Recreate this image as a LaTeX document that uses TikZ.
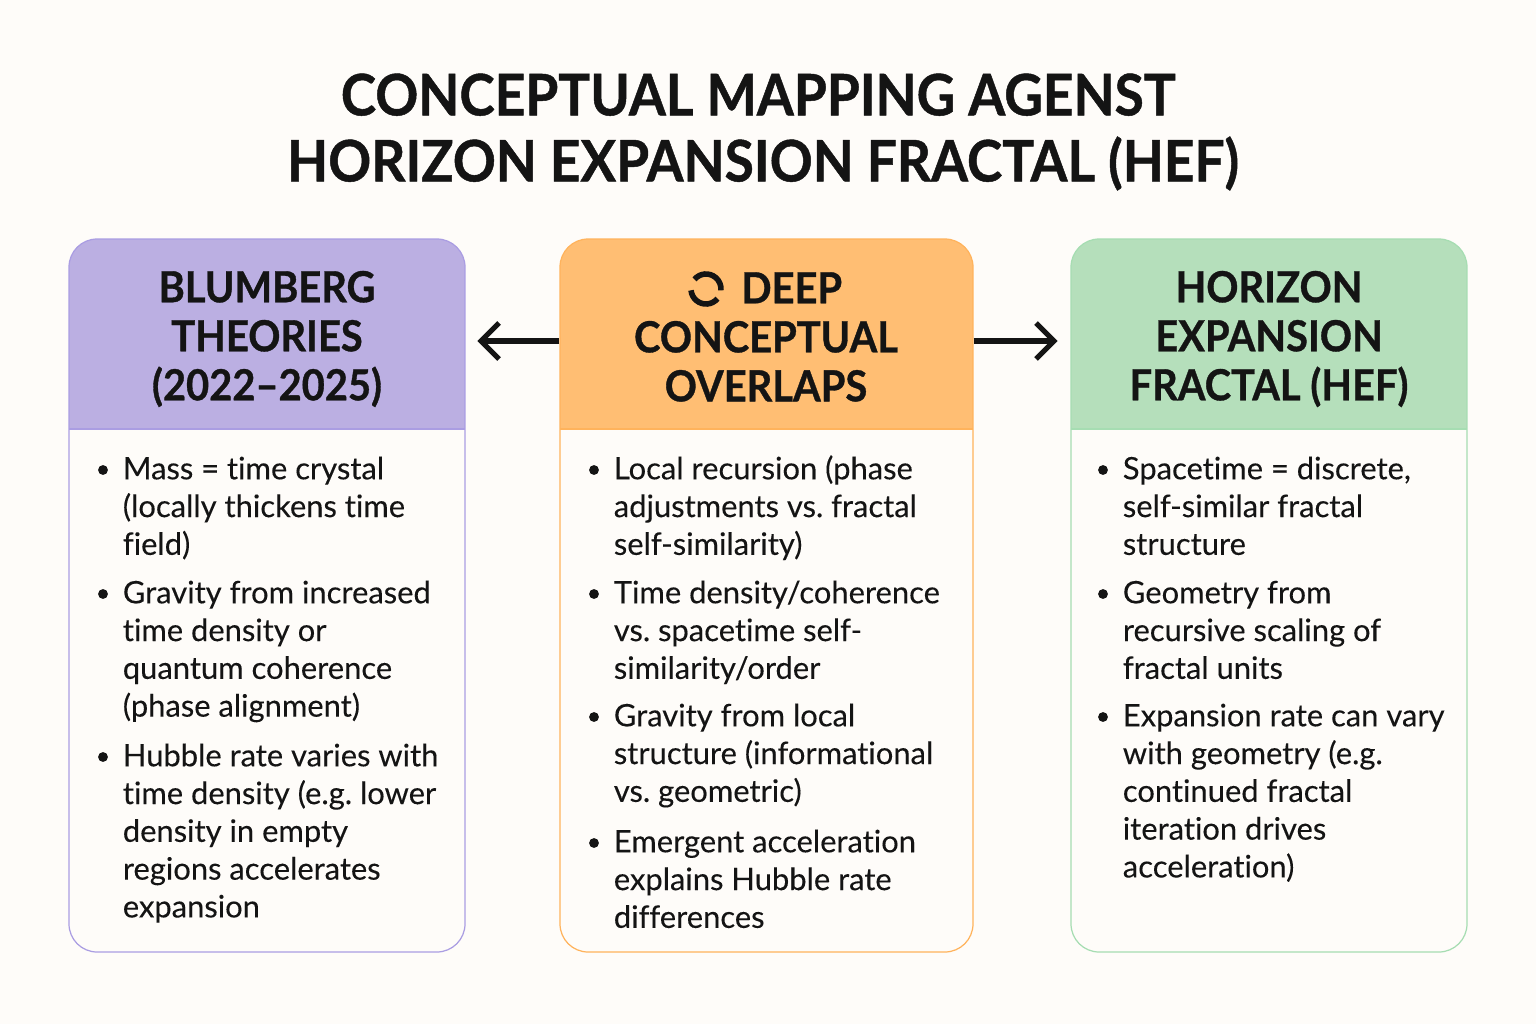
\documentclass[tikz,border=0pt]{standalone}
\usepackage{fontspec}
\setmainfont{Lato}[Ligatures={NoCommon}, UprightFeatures={FakeBold=0.15}, BoldFeatures={FakeStretch=0.93, FakeBold=0.8}]
\usepackage{xcolor}
\definecolor{pageTint}{HTML}{FEFCF9}
\definecolor{inkBlack}{HTML}{141414}
\definecolor{lilacFill}{HTML}{BBAFE2}
\definecolor{lilacEdge}{HTML}{AA9DE2}
\definecolor{amberFill}{HTML}{FFBE73}
\definecolor{amberEdge}{HTML}{FFB35C}
\definecolor{mintFill}{HTML}{B5DFBB}
\definecolor{mintEdge}{HTML}{A6DDB2}
\usepackage{tikz}
\usetikzlibrary{calc}

\tikzset{
  titletext/.style={text=inkBlack, align=center, font=\fontsize{32.6}{37.6}\selectfont\bfseries},
  headtext/.style={text=inkBlack, align=center, font=\fontsize{24.4}{27.9}\selectfont\bfseries},
  itemtext/.style={text=inkBlack, align=left, anchor=north west, inner sep=0pt, font=\fontsize{17.6}{21.5}\selectfont},
  itemdot/.style={circle, fill=inkBlack, inner sep=0pt, minimum size=5.6pt},
  pointer/.style={inkBlack, line width=2.9pt},
  % fill colour, edge colour
  cardbox/.style 2 args={draw=#2, fill=pageTint, line width=0.7pt, rounded corners=16pt, inner sep=0pt,
    minimum height=713*0.02cm,
    path picture={
      \fill[#1, sharp corners] (path picture bounding box.north west) rectangle ($(path picture bounding box.north east)+(0,190)$);
      \draw[#2, line width=0.7pt] ($(path picture bounding box.north west)+(0,190)$) -- ($(path picture bounding box.north east)+(0,190)$);
    }},
}
% one bullet with its text lines: name, x of dot, y of first baseline, lines
\newcommand{\carditem}[4]{
  \node[itemdot] (#1dot) at (#2,#3-9) {};
  \node[itemtext] (#1) at (#2+19.5,#3-26.5) {\strut #4};
}

\begin{document}
\frenchspacing
\begin{tikzpicture}[x=0.02cm, y=-0.02cm]
  \fill[pageTint] (0,0) rectangle (1536,1024);
  \useasboundingbox (0,0) rectangle (1536,1024);
  % ------- title -------
  \node[titletext] (maintitle) at (763,132) {CONCEPTUAL MAPPING AGENST\hspace*{5.5pt}\\HORIZON EXPANSION FRACTAL (HEF)};
  % ------- left card -------
  \node[cardbox={lilacFill}{lilacEdge}, minimum width=396*0.02cm] (blumberg) at (267,595.5) {};
  \node[headtext] (blumberghead) at (267,339) {BLUMBERG\\THEORIES\\(2022–2025)};
  \carditem{blumbergA}{103}{479}{Mass = time crystal\\(locally thickens time\\field)}
  \carditem{blumbergB}{103}{603}{Gravity from increased\\time density or\\quantum coherence\\(phase alignment)}
  \carditem{blumbergC}{103}{766}{Hubble rate varies with\\time density (e.g. lower\\density in empty\\regions accelerates\\expansion}
  % ------- middle card -------
  \node[cardbox={amberFill}{amberEdge}, minimum width=413*0.02cm] (overlap) at (766.5,595.5) {};
  \node[headtext] (overlaphead) at (766,337) {\hspace*{1.2em}DEEP\\CONCEPTUAL\\OVERLAPS};
  % circular icon before the heading
  \draw[inkBlack, line width=3.2pt] (706,289) ++(-140:15) arc[start angle=-140, end angle=5, radius=15];
  \draw[inkBlack, line width=3.2pt] (706,289) ++(175:15) arc[start angle=175, end angle=40, radius=15];
  \carditem{overlapA}{594}{479}{Local recursion (phase\\adjustments vs. fractal\\self-similarity)}
  \carditem{overlapB}{594}{603}{Time density/coherence\\vs. spacetime self-\\similarity/order}
  \carditem{overlapC}{594}{726}{Gravity from local\\structure (informational\\vs. geometric)}
  \carditem{overlapD}{594}{852}{Emergent acceleration\\explains Hubble rate\\differences}
  % ------- right card -------
  \node[cardbox={mintFill}{mintEdge}, minimum width=396*0.02cm] (hef) at (1269,595.5) {};
  \node[headtext] (hefhead) at (1269,339) {HORIZON\\EXPANSION\\FRACTAL (HEF)};
  \carditem{hefA}{1103}{479}{Spacetime = discrete,\\self-similar fractal\\structure}
  \carditem{hefB}{1103}{603}{Geometry from\\recursive scaling of\\fractal units}
  \carditem{hefC}{1103}{726}{Expansion rate can vary\\with geometry (e.g.\\continued fractal\\iteration drives\\acceleration)}
  % ------- pointers out of the middle card -------
  \coordinate (lefttip) at (481,341);
  \coordinate (righttip) at (1054,341);
  \draw[pointer] (overlap.west |- lefttip) -- (lefttip);
  \draw[pointer] (lefttip) ++(18,-18) -- (lefttip) -- ++(18,18);
  \draw[pointer] (overlap.east |- righttip) -- (righttip);
  \draw[pointer] (righttip) ++(-18,-18) -- (righttip) -- ++(-18,18);
\end{tikzpicture}
\end{document}
